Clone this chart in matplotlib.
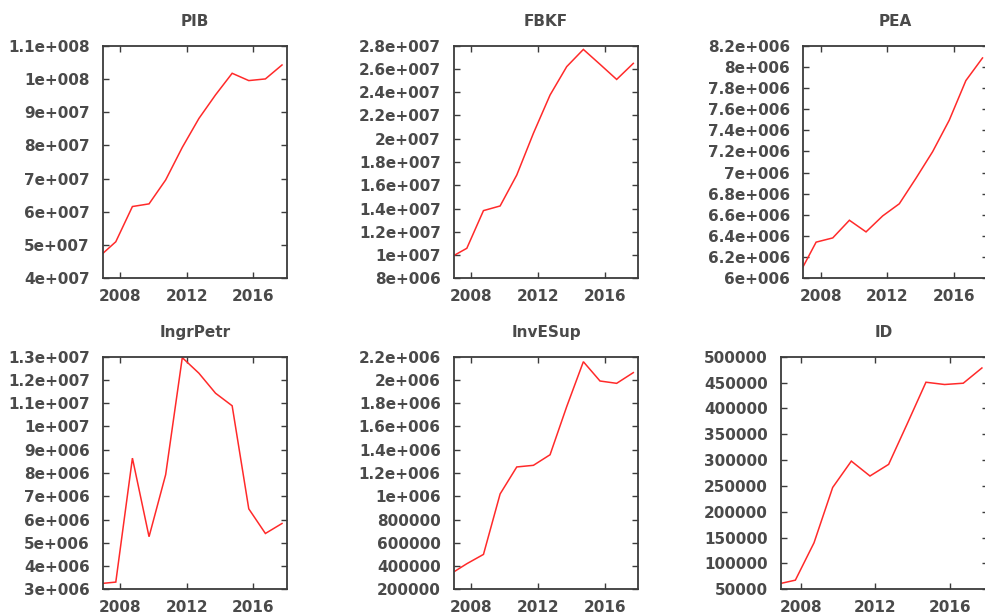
import numpy as np
import matplotlib
matplotlib.use("Agg")
import matplotlib.pyplot as plt
from matplotlib.ticker import FuncFormatter, MultipleLocator

# annual observations (plotted at mid/late-year positions)
years = [2006.72, 2007.72, 2008.72, 2009.72, 2010.72, 2011.72,
         2012.72, 2013.72, 2014.72, 2015.72, 2016.72, 2017.72]

pib = [4.65e7, 5.10e7, 6.16e7, 6.24e7, 6.96e7, 7.94e7,
       8.81e7, 9.52e7, 1.017e8, 9.95e7, 1.00e8, 1.042e8]
fbkf = [9.78e6, 1.058e7, 1.382e7, 1.422e7, 1.688e7, 2.047e7,
        2.376e7, 2.620e7, 2.768e7, 2.640e7, 2.510e7, 2.648e7]
pea = [6.045e6, 6.342e6, 6.382e6, 6.549e6, 6.439e6, 6.590e6,
       6.705e6, 6.946e6, 7.197e6, 7.495e6, 7.870e6, 8.084e6]
ingr_petr = [3.24e6, 3.31e6, 8.64e6, 5.26e6, 7.93e6, 1.296e7,
             1.229e7, 1.143e7, 1.089e7, 6.46e6, 5.40e6, 5.83e6]
inv_esup = [3.30e5, 4.20e5, 5.00e5, 1.020e6, 1.252e6, 1.266e6,
            1.357e6, 1.771e6, 2.157e6, 1.991e6, 1.971e6, 2.063e6]
inv_des = [59600, 67700, 140000, 247000, 298000, 269200,
           291700, 370500, 450600, 446200, 448700, 478200]

titles = ["PIB", "FBKF", "PEA", "IngrPetr", "InvESup", "ID"]
series = [pib, fbkf, pea, ingr_petr, inv_esup, inv_des]
y_ranges = [(4e7, 1.1e8, 1e7), (8e6, 2.8e7, 2e6), (6e6, 8.2e6, 2e5),
            (3e6, 1.3e7, 1e6), (2e5, 2.2e6, 2e5), (5e4, 5e5, 5e4)]
x_ticks = [2008, 2012, 2016]

# plot boxes in pixels: left, top, right, bottom
W, H = 985, 614
boxes = [(103, 45.7, 287, 278.3), (454, 45.7, 638.3, 278.3),
         (803.3, 45.7, 987.5, 278.3), (103, 356.7, 287, 589.3),
         (454, 356.7, 638.3, 589.3), (781, 356.7, 987.5, 589.3)]

ink = "#3c3c3c"
text_ink = "#4a4a4a"
plt.rcParams["font.family"] = ["DejaVu Sans"]
plt.rcParams["font.weight"] = "bold"


def gnuplot_fmt(v, pos=None):
    s = "%g" % v
    if "e" in s:
        mant, exp = s.split("e")
        sign = exp[0]
        s = "%se%s%03d" % (mant, sign, int(exp[1:]))
    return s


fig = plt.figure(figsize=(W / 100, H / 100), dpi=100)

for title, vals, (lo, hi, step), (l, t, r, b) in zip(titles, series, y_ranges, boxes):
    ax = fig.add_axes([l / W, 1 - b / H, (r - l) / W, (b - t) / H])
    ax.plot(years, vals, color="#ff2a2a", lw=1.1, solid_joinstyle="miter")
    ax.set_xlim(2006.95, 2018.02)
    ax.set_ylim(lo, hi)
    ax.set_xticks(x_ticks)
    ax.yaxis.set_major_locator(MultipleLocator(step))
    ax.yaxis.set_major_formatter(FuncFormatter(gnuplot_fmt))
    ax.tick_params(direction="in", length=4, width=1.0, color=ink,
                   labelcolor=text_ink, labelsize=11, top=True, right=True)
    ax.tick_params(axis="y", pad=9.5)
    ax.tick_params(axis="x", pad=8)
    for sp in ax.spines.values():
        sp.set_color(ink)
        sp.set_linewidth(1.3)
    ax.set_title(title, fontsize=11, color=text_ink, pad=14,
                 fontweight="bold")

fig.savefig("out.png", dpi=100)
